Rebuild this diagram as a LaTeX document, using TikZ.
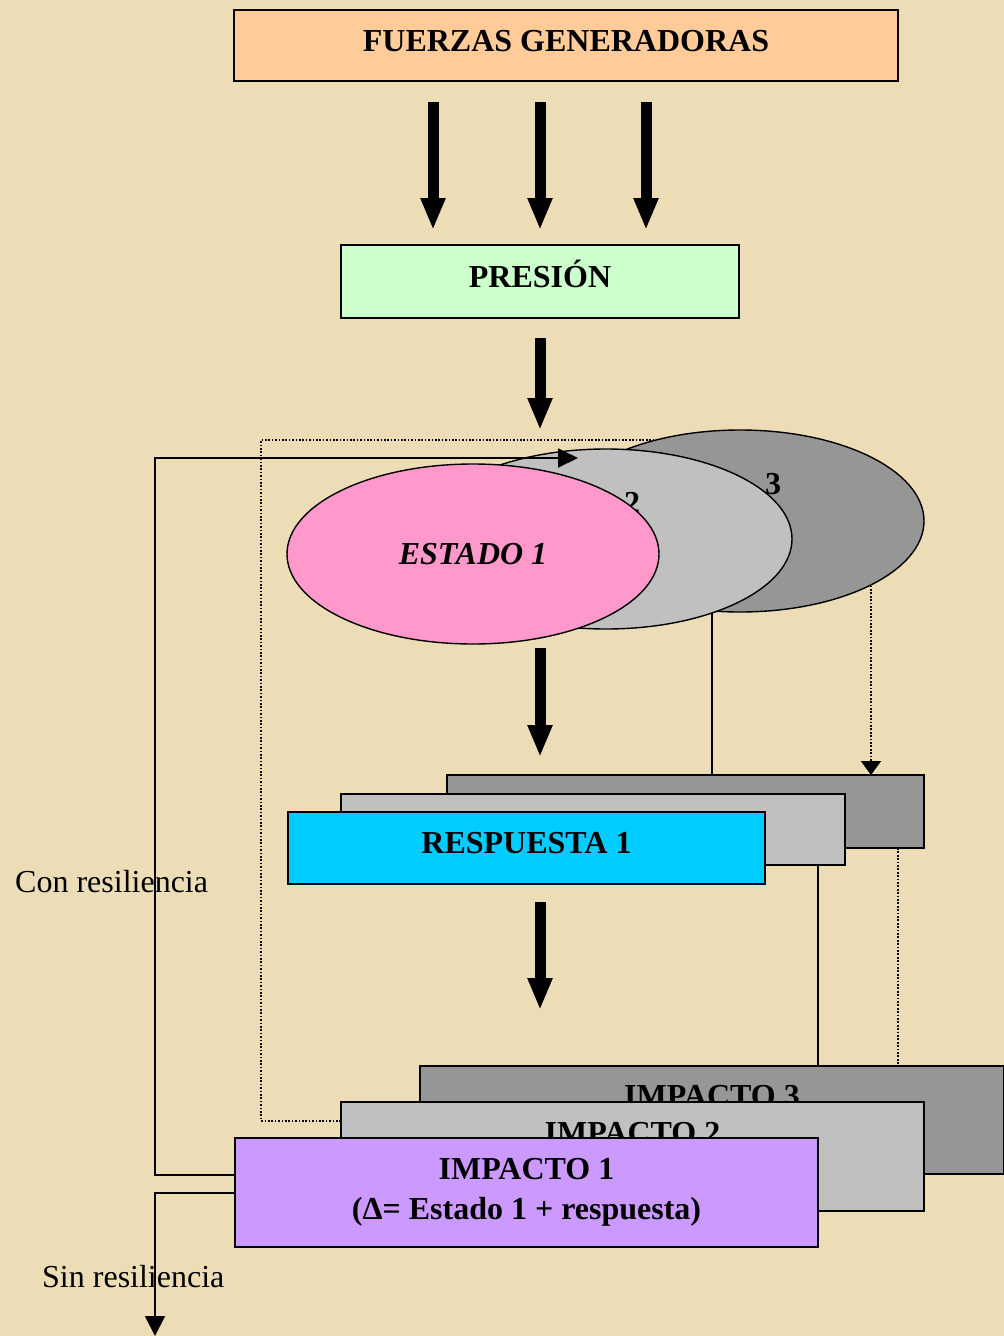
\documentclass[tikz,border=0pt]{standalone}
\usepackage{fontspec}
\setmainfont{Liberation Serif}
\usetikzlibrary{arrows.meta,shapes.geometric,calc}
\pgfdeclarelayer{bg}
\pgfdeclarelayer{back}
\pgfsetlayers{bg,back,main}
\definecolor{parch}{RGB}{237,221,183}
\definecolor{peach}{HTML}{FFCC99}
\definecolor{mint}{HTML}{CCFFCC}
\definecolor{rosa}{HTML}{FF99CC}
\definecolor{lgray}{HTML}{C0C0C0}
\definecolor{dgray}{HTML}{969696}
\definecolor{celeste}{HTML}{00CCFF}
\definecolor{lila}{HTML}{CC99FF}
\begin{document}
\begin{tikzpicture}[x=1pt,y=-1pt,
  box/.style={draw=black,line width=1.6pt,rectangle,inner sep=0pt,outer sep=0pt,
    font={\bfseries\fontsize{32}{40.5}\selectfont},text height=22pt,text depth=11pt},
  ibox/.style={draw=black,line width=1.6pt,rectangle,inner sep=0pt,outer sep=0pt,
    font={\bfseries\fontsize{32}{40.5}\selectfont},align=center},
  ell/.style={draw=black,line width=1.4pt,ellipse,inner sep=0pt,outer sep=0pt},
  num/.style={font={\bfseries\fontsize{32}{36}\selectfont},inner sep=0pt},
  big/.style={line width=11pt,-{Triangle[width=23pt,length=32pt]}},
  conn/.style={line width=1.9pt},
  dotln/.style={line width=1.7pt,dash pattern=on 1.7pt off 1.7pt},
  lab/.style={font={\fontsize{32}{36}\selectfont},inner sep=0pt,anchor=west}
]
\begin{pgfonlayer}{bg}
\fill[parch] (0,0) rectangle (1004,1336);
\end{pgfonlayer}
\useasboundingbox (0,0) rectangle (1004,1336);

% top boxes
\node[box,fill=peach,minimum width=664pt,minimum height=71pt] (fg) at (566,45.5) {FUERZAS GENERADORAS};
\node[box,fill=mint,minimum width=398pt,minimum height=73pt] (pr) at (540,281.5) {PRESIÓN};

% ellipses
\node[ell,fill=dgray,minimum width=368pt,minimum height=182pt] (e3) at (740,521) {};
\node[ell,fill=lgray,minimum width=372pt,minimum height=180pt] (e2) at (606,539) {};
\node[num] (n2) at (632,503) {2};
\node[ell,fill=rosa,minimum width=372pt,minimum height=180pt,
  font={\bfseries\itshape\fontsize{32}{36}\selectfont}] (e1) at (473,554) {ESTADO 1};
\node[num] (n3) at (773,484) {3};

% respuesta stack
\node[box,fill=dgray,minimum width=477pt,minimum height=73pt] (r3) at (685.5,811.5) {};
\node[box,fill=lgray,minimum width=504pt,minimum height=71pt] (r2) at (593,829.5) {};
\node[box,fill=celeste,minimum width=477pt,minimum height=72pt] (r1) at (526.5,848) {RESPUESTA 1};

% impacto stack
\node[ibox,fill=dgray,minimum width=584pt,minimum height=108pt] (i3) at (712,1120)
  {IMPACTO 3\\\phantom{(Δ= Estado 1 + respuesta)}};
\node[ibox,fill=lgray,minimum width=583pt,minimum height=109pt] (i2) at (632.5,1156.5)
  {IMPACTO 2\\\phantom{(Δ= Estado 1 + respuesta)}};
\node[ibox,fill=lila,minimum width=583pt,minimum height=109pt] (i1) at (526.5,1192.5)
  {IMPACTO 1\\(Δ= Estado 1 + respuesta)};

% labels
\node[lab] (con) at (15,882) {Con resiliencia};
\node[lab] (sin) at (42,1277) {Sin resiliencia};

% helper coordinates
\coordinate (a1) at (433,0);
\coordinate (a2) at (540,0);
\coordinate (a3) at (646,0);
\coordinate (xa) at (712,0);
\coordinate (xb) at (871,0);
\coordinate (xc) at (898,0);
\coordinate (xd) at (818,0);
\coordinate (dl) at (261,440);
\coordinate (dy) at (0,1121);
\coordinate (cl) at (155,458);
\coordinate (ct) at (578,458);
\coordinate (cb) at (155,1336);
\coordinate (ya) at (0,1175);
\coordinate (yb) at (0,1193);

% thick arrows
\draw[big] ($(fg.south -| a1)+(0,21)$) -- ($(pr.north -| a1)+(0,-15)$);
\draw[big] ($(fg.south -| a2)+(0,21)$) -- ($(pr.north -| a2)+(0,-15)$);
\draw[big] ($(fg.south -| a3)+(0,21)$) -- ($(pr.north -| a3)+(0,-15)$);
\draw[big] ($(pr.south -| a2)+(0,20)$) -- ($(e1.north -| a2)+(0,-34)$);
\draw[big] ($(e1.south -| a2)+(0,4)$) -- ($(r3.north -| a2)+(0,-18)$);
\draw[big] ($(r1.south -| a2)+(0,18)$) -- ($(i3.north -| a2)+(0,-56)$);

% connectors behind shapes
\begin{pgfonlayer}{back}
\draw[conn] (e2.center -| xa) -- (r3.north -| xa);
\draw[dotln,-{Triangle[width=20pt,length=14pt]}] (e3.center -| xb) -- (r3.north -| xb);
\draw[dotln] (r3.south -| xc) -- (i3.north -| xc);
\draw[conn] (r2.south -| xd) -- (i3.north -| xd);
\draw[dotln] (i2.west |- dy) -- (dl |- dy) -- (dl) -- (dl -| e3.center);
\end{pgfonlayer}

% resilience loops
\draw[conn,-{Triangle[width=19pt,length=20pt]}] (i1.west |- ya) -| (cl) -- (ct);
\draw[conn,-{Triangle[width=20pt,length=20pt]}] (i1.west |- yb) -| (cb);
\end{tikzpicture}
\end{document}
